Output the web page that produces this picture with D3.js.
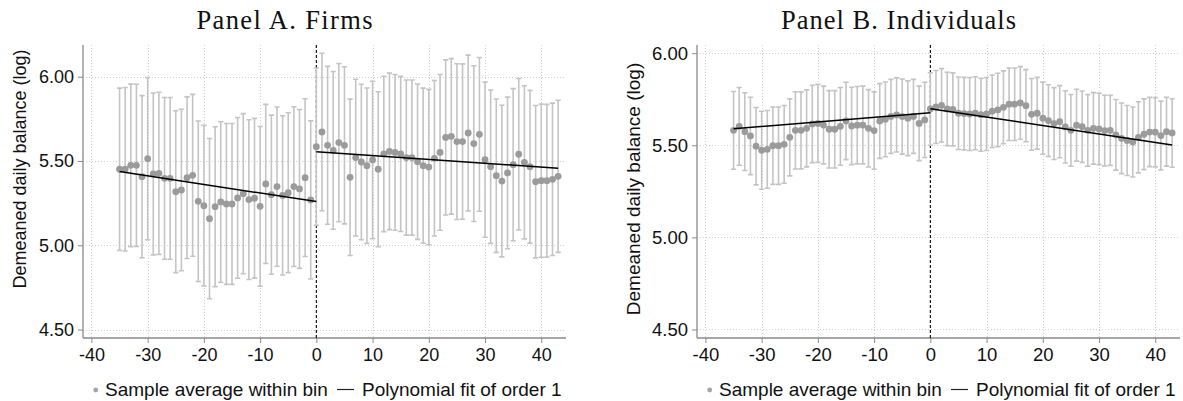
<!DOCTYPE html>
<html>
<head>
<meta charset="utf-8">
<script src="https://cdn.jsdelivr.net/npm/d3@7"></script>
<style>
  body { margin: 0; background: #fff; }
  svg { display: block; }
</style>
</head>
<body>
<svg id="chart" width="1183" height="401"></svg>
<script>
// ---- Data -------------------------------------------------------------
// Event-time bins (days relative to the event at 0)
const binsBefore = [-35,-34,-33,-32,-31,-30,-29,-28,-27,-26,-25,-24,-23,-22,-21,-20,-19,-18,
  -17,-16,-15,-14,-13,-12,-11,-10,-9,-8,-7,-6,-5,-4,-3,-2,-1];
const binsAfter = [0,1,2,3,4,5,6,7,8,9,10,11,12,13,14,15,16,17,18,19,20,21,22,23,24,25,26,27,
  28,29,30,31,32,33,34,35,36,37,38,39,40,41,42,43];

// Panel A: firms — bin averages and 95% CI half-widths
const firmsBeforeMean = [5.451,5.451,5.474,5.474,5.407,5.514,5.423,5.427,5.397,5.397,
  5.318,5.328,5.401,5.415,5.261,5.235,5.158,5.229,5.257,5.245,
  5.245,5.281,5.306,5.271,5.279,5.231,5.364,5.300,5.348,5.296,
  5.312,5.348,5.334,5.401,5.269];
const firmsBeforeCI = [.481,.485,.482,.481,.481,.481,.480,.481,.480,.480,
  .480,.479,.479,.480,.476,.476,.475,.474,.476,.477,
  .477,.477,.475,.474,.474,.474,.472,.472,.472,.472,
  .474,.474,.471,.468,.469];
const firmsAfterMean = [5.585,5.672,5.593,5.563,5.609,5.593,5.403,5.520,5.494,5.472,
  5.506,5.451,5.542,5.557,5.551,5.542,5.520,5.520,5.496,5.472,
  5.464,5.516,5.551,5.640,5.646,5.615,5.615,5.666,5.603,5.658,
  5.508,5.466,5.413,5.381,5.429,5.478,5.540,5.492,5.466,5.377,
  5.383,5.383,5.391,5.409];
const firmsAfterCI = [.467,.467,.468,.468,.469,.466,.464,.465,.461,.461,
  .467,.460,.461,.464,.462,.460,.460,.460,.461,.460,
  .461,.461,.462,.460,.461,.462,.461,.462,.462,.456,
  .460,.455,.455,.450,.450,.451,.449,.454,.453,.452,
  .454,.453,.452,.451];
const firmsFitBefore = [[-35, 5.437], [0, 5.259]];
const firmsFitAfter = [[0, 5.555], [43, 5.457]];

// Panel B: individuals — bin averages and 95% CI half-widths
const indivBeforeMean = [5.581,5.603,5.574,5.551,5.495,5.473,5.478,5.498,5.498,5.505,
  5.543,5.581,5.581,5.592,5.616,5.619,5.610,5.587,5.587,5.603,
  5.632,5.605,5.609,5.610,5.592,5.580,5.632,5.641,5.657,5.665,
  5.656,5.647,5.657,5.619,5.638];
const indivBeforeCI = [.211,.211,.211,.210,.210,.212,.211,.210,.210,.211,
  .209,.210,.209,.209,.210,.212,.211,.210,.210,.211,
  .210,.210,.210,.211,.210,.210,.203,.203,.201,.201,
  .204,.203,.201,.202,.204];
const indivAfterMean = [5.697,5.708,5.717,5.697,5.695,5.674,5.672,5.670,5.674,5.666,
  5.670,5.685,5.692,5.706,5.723,5.723,5.730,5.715,5.668,5.674,
  5.647,5.634,5.618,5.628,5.600,5.581,5.609,5.601,5.581,5.592,
  5.589,5.580,5.581,5.557,5.538,5.526,5.518,5.543,5.560,5.572,
  5.571,5.553,5.574,5.567];
const indivAfterCI = [.197,.198,.199,.199,.198,.197,.197,.198,.198,.198,
  .198,.197,.199,.198,.197,.197,.197,.196,.195,.195,
  .196,.195,.195,.196,.196,.195,.195,.194,.194,.194,
  .194,.192,.190,.192,.192,.190,.190,.193,.192,.188,
  .188,.187,.187,.186];
const indivFitBefore = [[-35, 5.590], [0, 5.677]];
const indivFitAfter = [[0, 5.699], [43, 5.502]];

// Axes
const xTicks = [-40,-30,-20,-10,0,10,20,30,40];
const yTicks = [4.5,5.0,5.5,6.0];
const yAxisTitle = "Demeaned daily balance (log)";
const legendLabels = ["Sample average within bin", "Polynomial fit of order 1"];

// ---- Drawing ----------------------------------------------------------
const svg = d3.select("#chart");
const FONT = "'Liberation Sans', Arial, Helvetica, sans-serif";
const SERIF = "'Liberation Serif', 'Times New Roman', serif";

function zip(xs, ms, cs) {
  return xs.map((x, i) => ({ x, m: ms[i], c: cs[i] }));
}

function drawPanel(cfg) {
  const g = svg.append("g");
  const x = d3.scaleLinear().domain([-41.5, 44.4]).range([cfg.left, cfg.right]);
  const y = d3.scaleLinear().domain(cfg.yDomain).range([cfg.bottom, cfg.top]);

  // title
  g.append("text")
    .attr("x", cfg.titleX).attr("y", 28.5)
    .attr("text-anchor", "middle")
    .attr("font-family", SERIF).attr("font-size", 26.5)
    .attr("textLength", cfg.titleLen).attr("lengthAdjust", "spacing")
    .attr("fill", "#111")
    .text(cfg.title);

  // grid
  const grid = g.append("g").attr("stroke", "#cfcfcf").attr("stroke-width", 1)
    .attr("stroke-dasharray", "1,2");
  grid.selectAll("line.h").data(yTicks).join("line")
    .attr("x1", cfg.left).attr("x2", cfg.right)
    .attr("y1", d => Math.round(y(d)) + 0.5).attr("y2", d => Math.round(y(d)) + 0.5);
  grid.selectAll("line.v").data(xTicks.filter(d => d !== 0)).join("line")
    .attr("x1", d => Math.round(x(d)) + 0.5).attr("x2", d => Math.round(x(d)) + 0.5)
    .attr("y1", cfg.top).attr("y2", cfg.bottom);

  // axes
  const yAxis = d3.axisLeft(y).tickValues(yTicks).tickFormat(d3.format(".2f"))
    .tickSizeInner(5).tickSizeOuter(0).tickPadding(4);
  const xAxis = d3.axisBottom(x).tickValues(xTicks).tickFormat(d3.format("d"))
    .tickSizeInner(5).tickSizeOuter(0).tickPadding(5);

  const ya = g.append("g").attr("transform", `translate(${cfg.left},0)`).call(yAxis);
  ya.select(".domain").attr("d", `M0,${cfg.top}V${cfg.bottom}`);
  const xa = g.append("g").attr("transform", `translate(0,${cfg.bottom})`).call(xAxis);
  xa.select(".domain").attr("d", `M${cfg.left},0H${cfg.right}`);
  [ya, xa].forEach(a => {
    a.selectAll(".domain").attr("stroke", "#8a8a8a").attr("stroke-width", 1.3);
    a.selectAll(".tick line").attr("stroke", "#8a8a8a").attr("stroke-width", 1);
    a.selectAll(".tick text").attr("font-family", FONT).attr("font-size", cfg.tickFont)
      .attr("fill", "#111");
  });
  // plain hyphen for negative tick labels
  xa.selectAll(".tick text").text(d => String(d));

  // y axis title
  g.append("text")
    .attr("transform", `translate(${cfg.yTitleX},${cfg.yTitleY}) rotate(-90)`)
    .attr("text-anchor", "middle").attr("dominant-baseline", "central")
    .attr("font-family", FONT).attr("font-size", cfg.yTitleFont).attr("fill", "#111")
    .text(yAxisTitle);

  // cutoff
  g.append("line")
    .attr("x1", x(0)).attr("x2", x(0)).attr("y1", cfg.top).attr("y2", cfg.bottom)
    .attr("stroke", "#000").attr("stroke-width", 1.1).attr("stroke-dasharray", "3,2");

  const pts = zip(binsBefore, cfg.beforeMean, cfg.beforeCI)
    .concat(zip(binsAfter, cfg.afterMean, cfg.afterCI));

  // confidence intervals
  const ci = g.append("g").attr("stroke", "#c4c4c4").attr("stroke-width", 1.6).attr("fill", "none");
  ci.selectAll("path").data(pts).join("path")
    .attr("d", d => {
      const cx = x(d.x), y0 = y(d.m - d.c), y1 = y(d.m + d.c), w = 2.6;
      return `M${cx},${y0}V${y1}M${cx - w},${y1}H${cx + w}M${cx - w},${y0}H${cx + w}`;
    });

  // bin averages
  g.append("g").selectAll("circle").data(pts).join("circle")
    .attr("cx", d => x(d.x)).attr("cy", d => y(d.m)).attr("r", 3.4)
    .attr("fill", "#9b9b9b");

  // linear fits
  const line = d3.line().x(d => x(d[0])).y(d => y(d[1]));
  [cfg.fitBefore, cfg.fitAfter].forEach(f => {
    g.append("path").attr("d", line(f)).attr("fill", "none")
      .attr("stroke", "#000").attr("stroke-width", 1.5);
  });

  // legend
  const lg = g.append("g").attr("font-family", FONT).attr("font-size", cfg.legendFont)
    .attr("fill", "#111");
  const ly = 396;
  lg.append("circle").attr("cx", cfg.left + 12.7).attr("cy", ly - 6).attr("r", 2.4)
    .attr("fill", "#a5a5a5");
  lg.append("text").attr("x", cfg.left + 22).attr("y", ly).text(legendLabels[0]);
  lg.append("line").attr("x1", cfg.left + 254).attr("x2", cfg.left + 271)
    .attr("y1", ly - 6.5).attr("y2", ly - 6.5).attr("stroke", "#222").attr("stroke-width", 1.2);
  lg.append("text").attr("x", cfg.left + 279).attr("y", ly).text(legendLabels[1]);
}

drawPanel({
  title: "Panel A. Firms", titleX: 284.5, titleLen: 176,
  left: 83, right: 566, top: 45, bottom: 338, yDomain: [4.45, 6.188],
  tickFont: 18, yTitleFont: 18, yTitleX: 20, yTitleY: 169, legendFont: 19,
  beforeMean: firmsBeforeMean, beforeCI: firmsBeforeCI,
  afterMean: firmsAfterMean, afterCI: firmsAfterCI,
  fitBefore: firmsFitBefore, fitAfter: firmsFitAfter
});

drawPanel({
  title: "Panel B. Individuals", titleX: 898.5, titleLen: 235,
  left: 697, right: 1180, top: 45, bottom: 338, yDomain: [4.4538, 6.0445],
  tickFont: 18.5, yTitleFont: 19, yTitleX: 633, yTitleY: 189, legendFont: 19,
  beforeMean: indivBeforeMean, beforeCI: indivBeforeCI,
  afterMean: indivAfterMean, afterCI: indivAfterCI,
  fitBefore: indivFitBefore, fitAfter: indivFitAfter
});
</script>
</body>
</html>
